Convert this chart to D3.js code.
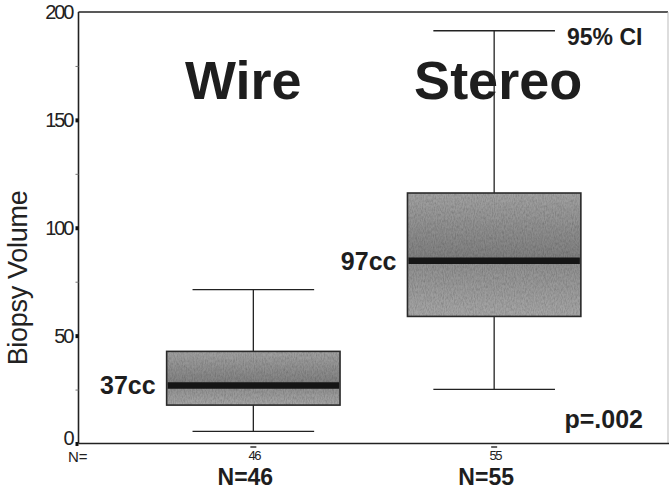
<!DOCTYPE html>
<html>
<head>
<meta charset="utf-8">
<script src="https://cdn.jsdelivr.net/npm/d3@7"></script>
<style>
  html, body { margin: 0; padding: 0; background: #fff; }
  svg { display: block; font-family: 'Liberation Sans', Arial, sans-serif; }
</style>
</head>
<body>
<div id="chart"></div>
<script>
// values
const groups = ['Wire', 'Stereo'];
const whiskerLow = [5.6, 25.1];
const q1 = [17.8, 58.9];
const median = [26.9, 84.7];
const q3 = [42.7, 116.1];
const whiskerHigh = [71.3, 191.3];
const counts = [46, 55];
const medianLabels = ['37cc', '97cc'];
const yTicks = [0, 50, 100, 150, 200];
const yMinorTicks = [25, 75, 125, 175];

const data = groups.map((g, i) => ({
  name: g,
  lo: whiskerLow[i],
  q1: q1[i],
  med: median[i],
  q3: q3[i],
  hi: whiskerHigh[i],
  n: counts[i],
  label: medianLabels[i],
}));

const width = 669;
const height = 490;
const plot = { left: 78.5, top: 12, right: 668, bottom: 443.5 };

const svg = d3.select('#chart')
  .append('svg')
  .attr('width', width)
  .attr('height', height);

const x = d3.scalePoint()
  .domain(groups)
  .range([plot.left, width])
  .padding(0.726);

const y = d3.scaleLinear()
  .domain([0, 200])
  .range([plot.bottom, plot.top]);

const step = x.step();
const boxW = step * 0.72;
const capW = step * 0.505;

// grainy grey fill like the scanned print
const defs = svg.append('defs');
const grain = defs.append('filter')
  .attr('id', 'grain')
  .attr('x', 0).attr('y', 0).attr('width', 1).attr('height', 1);
grain.append('feTurbulence')
  .attr('type', 'fractalNoise')
  .attr('baseFrequency', '0.9 0.35')
  .attr('numOctaves', 2)
  .attr('seed', 4)
  .attr('result', 'noise');
grain.append('feColorMatrix')
  .attr('in', 'noise')
  .attr('type', 'matrix')
  .attr('values', '0 0 0 0 0  0 0 0 0 0  0 0 0 0 0  0.6 0 0 0 -0.2')
  .attr('result', 'speck');
grain.append('feComposite')
  .attr('in', 'speck').attr('in2', 'SourceGraphic')
  .attr('operator', 'in').attr('result', 'speckIn');
const merge = grain.append('feMerge');
merge.append('feMergeNode').attr('in', 'SourceGraphic');
merge.append('feMergeNode').attr('in', 'speckIn');

data.forEach((d, i) => {
  const top = y(d.q3), bot = y(d.q1);
  const m = (y(d.med) - top) / (bot - top);
  const g = defs.append('linearGradient')
    .attr('id', 'fill' + i)
    .attr('x1', 0).attr('y1', 0).attr('x2', 0).attr('y2', 1);
  g.append('stop').attr('offset', 0).attr('stop-color', '#a2a2a2');
  g.append('stop').attr('offset', m).attr('stop-color', '#7e7e7e');
  g.append('stop').attr('offset', m).attr('stop-color', '#8f8f8f');
  g.append('stop').attr('offset', 1).attr('stop-color', '#a6a6a6');
});

// frame
svg.append('line')
  .attr('x1', plot.left).attr('x2', plot.right)
  .attr('y1', plot.top).attr('y2', plot.top)
  .attr('stroke', '#222').attr('stroke-width', 1.3);
svg.append('line')
  .attr('x1', plot.right).attr('x2', plot.right)
  .attr('y1', plot.top).attr('y2', plot.bottom)
  .attr('stroke', '#bbb').attr('stroke-width', 1);

// titles over the boxes
const titleOffset = [-10, 4];
svg.append('g')
  .selectAll('text')
  .data(data)
  .enter()
  .append('text')
    .attr('x', (d, i) => x(d.name) + titleOffset[i])
    .attr('y', 99)
    .attr('text-anchor', 'middle')
    .style('font-size', '54px')
    .style('font-weight', 'bold')
    .attr('fill', '#1e1e1e')
    .text((d) => d.name);

// whiskers
const wg = svg.append('g')
  .attr('stroke', '#222')
  .attr('stroke-width', 1.3);
wg.selectAll('line.stem')
  .data(data)
  .enter()
  .append('line')
    .attr('class', 'stem')
    .attr('x1', (d) => x(d.name)).attr('x2', (d) => x(d.name))
    .attr('y1', (d) => y(d.lo)).attr('y2', (d) => y(d.hi));
wg.selectAll('line.capHi')
  .data(data)
  .enter()
  .append('line')
    .attr('x1', (d) => x(d.name) - capW / 2).attr('x2', (d) => x(d.name) + capW / 2)
    .attr('y1', (d) => y(d.hi)).attr('y2', (d) => y(d.hi));
wg.selectAll('line.capLo')
  .data(data)
  .enter()
  .append('line')
    .attr('x1', (d) => x(d.name) - capW / 2).attr('x2', (d) => x(d.name) + capW / 2)
    .attr('y1', (d) => y(d.lo)).attr('y2', (d) => y(d.lo));

// boxes
const boxes = svg.append('g')
  .selectAll('g')
  .data(data)
  .enter()
  .append('g');
boxes.append('rect')
  .attr('x', (d) => x(d.name) - boxW / 2)
  .attr('y', (d) => y(d.q3))
  .attr('width', boxW)
  .attr('height', (d) => y(d.q1) - y(d.q3))
  .attr('fill', (d, i) => `url(#fill${i})`)
  .attr('filter', 'url(#grain)');
boxes.append('rect')
  .attr('x', (d) => x(d.name) - boxW / 2)
  .attr('y', (d) => y(d.q3))
  .attr('width', boxW)
  .attr('height', (d) => y(d.q1) - y(d.q3))
  .attr('fill', 'none')
  .attr('stroke', '#2a2a2a')
  .attr('stroke-width', 1.6);
boxes.append('line')
  .attr('x1', (d) => x(d.name) - boxW / 2 + 1).attr('x2', (d) => x(d.name) + boxW / 2 - 1)
  .attr('y1', (d) => y(d.med)).attr('y2', (d) => y(d.med))
  .attr('stroke', '#151515')
  .attr('stroke-width', 6.5);

// median labels
svg.append('g')
  .selectAll('text')
  .data(data)
  .enter()
  .append('text')
    .attr('x', (d) => x(d.name) - boxW / 2 - 11)
    .attr('y', (d) => y(d.med))
    .attr('dy', '0.35em')
    .attr('text-anchor', 'end')
    .style('font-size', '25px')
    .style('font-weight', 'bold')
    .attr('fill', '#1e1e1e')
    .text((d) => d.label);

// 95% CI note at the upper whisker of the last box
const last = data[data.length - 1];
svg.append('text')
  .attr('x', x(last.name) + capW / 2 + 12)
  .attr('y', y(last.hi) + 14)
  .style('font-size', '23px')
  .style('font-weight', 'bold')
  .attr('fill', '#1e1e1e')
  .text('95% CI');

svg.append('text')
  .attr('x', 643)
  .attr('y', 428)
  .attr('text-anchor', 'end')
  .style('font-size', '25px')
  .style('font-weight', 'bold')
  .attr('fill', '#1e1e1e')
  .text('p=.002');

// y axis: major ticks with labels
const yAxis = svg.append('g')
  .attr('transform', `translate(${plot.left},0)`)
  .call(d3.axisLeft(y).tickValues(yTicks).tickSize(3).tickPadding(3));
yAxis.select('.domain')
  .attr('stroke', '#222')
  .attr('stroke-width', 1.6)
  .attr('d', `M0,${plot.top}V${plot.bottom}`);
yAxis.selectAll('.tick line')
  .attr('stroke', '#111')
  .attr('stroke-width', 4)
  .attr('stroke-opacity', (d) => (d === 200 ? 0 : 1));
yAxis.selectAll('.tick text')
  .style('font-size', '20px')
  .style('letter-spacing', '-2px')
  .style('font-family', "'Liberation Sans', Arial, sans-serif")
  .attr('fill', '#222')
  .attr('dy', (d) => (d === 0 ? '0.05em' : '0.32em'));

// y axis: minor ticks
const yMinor = svg.append('g')
  .attr('transform', `translate(${plot.left},0)`)
  .call(d3.axisLeft(y).tickValues(yMinorTicks).tickSize(3).tickFormat(''));
yMinor.select('.domain').remove();
yMinor.selectAll('.tick line').attr('stroke', '#777').attr('stroke-width', 1);

svg.append('text')
  .attr('transform', 'translate(27,278) rotate(-90)')
  .attr('text-anchor', 'middle')
  .style('font-size', '27px')
  .style('letter-spacing', '-0.3px')
  .attr('fill', '#222')
  .text('Biopsy Volume');

// x axis
const xAxis = svg.append('g')
  .attr('transform', `translate(0,${plot.bottom})`)
  .call(d3.axisBottom(x).tickSize(0).tickFormat(''));
xAxis.select('.domain')
  .attr('stroke', '#222')
  .attr('stroke-width', 1.6)
  .attr('d', `M${plot.left},0H${width}`);

// case counts under the axis
svg.append('g')
  .selectAll('line')
  .data(data)
  .enter()
  .append('line')
    .attr('x1', (d) => x(d.name) - 3).attr('x2', (d) => x(d.name) + 3)
    .attr('y1', plot.bottom + 3.5).attr('y2', plot.bottom + 3.5)
    .attr('stroke', '#333').attr('stroke-width', 1.5);
svg.append('g')
  .selectAll('text')
  .data(data)
  .enter()
  .append('text')
    .attr('x', (d) => x(d.name) + 1)
    .attr('y', 460)
    .attr('text-anchor', 'middle')
    .style('font-size', '13px')
    .style('letter-spacing', '-1.5px')
    .attr('fill', '#222')
    .text((d) => d.n);
svg.append('text')
  .attr('x', 68)
  .attr('y', 462)
  .style('font-size', '15px')
  .attr('fill', '#222')
  .text('N=');

svg.append('g')
  .selectAll('text')
  .data(data)
  .enter()
  .append('text')
    .attr('x', (d) => x(d.name) - 8)
    .attr('y', 484.5)
    .attr('text-anchor', 'middle')
    .style('font-size', '23px')
    .style('font-weight', 'bold')
    .attr('fill', '#1e1e1e')
    .text((d) => 'N=' + d.n);
</script>
</body>
</html>
